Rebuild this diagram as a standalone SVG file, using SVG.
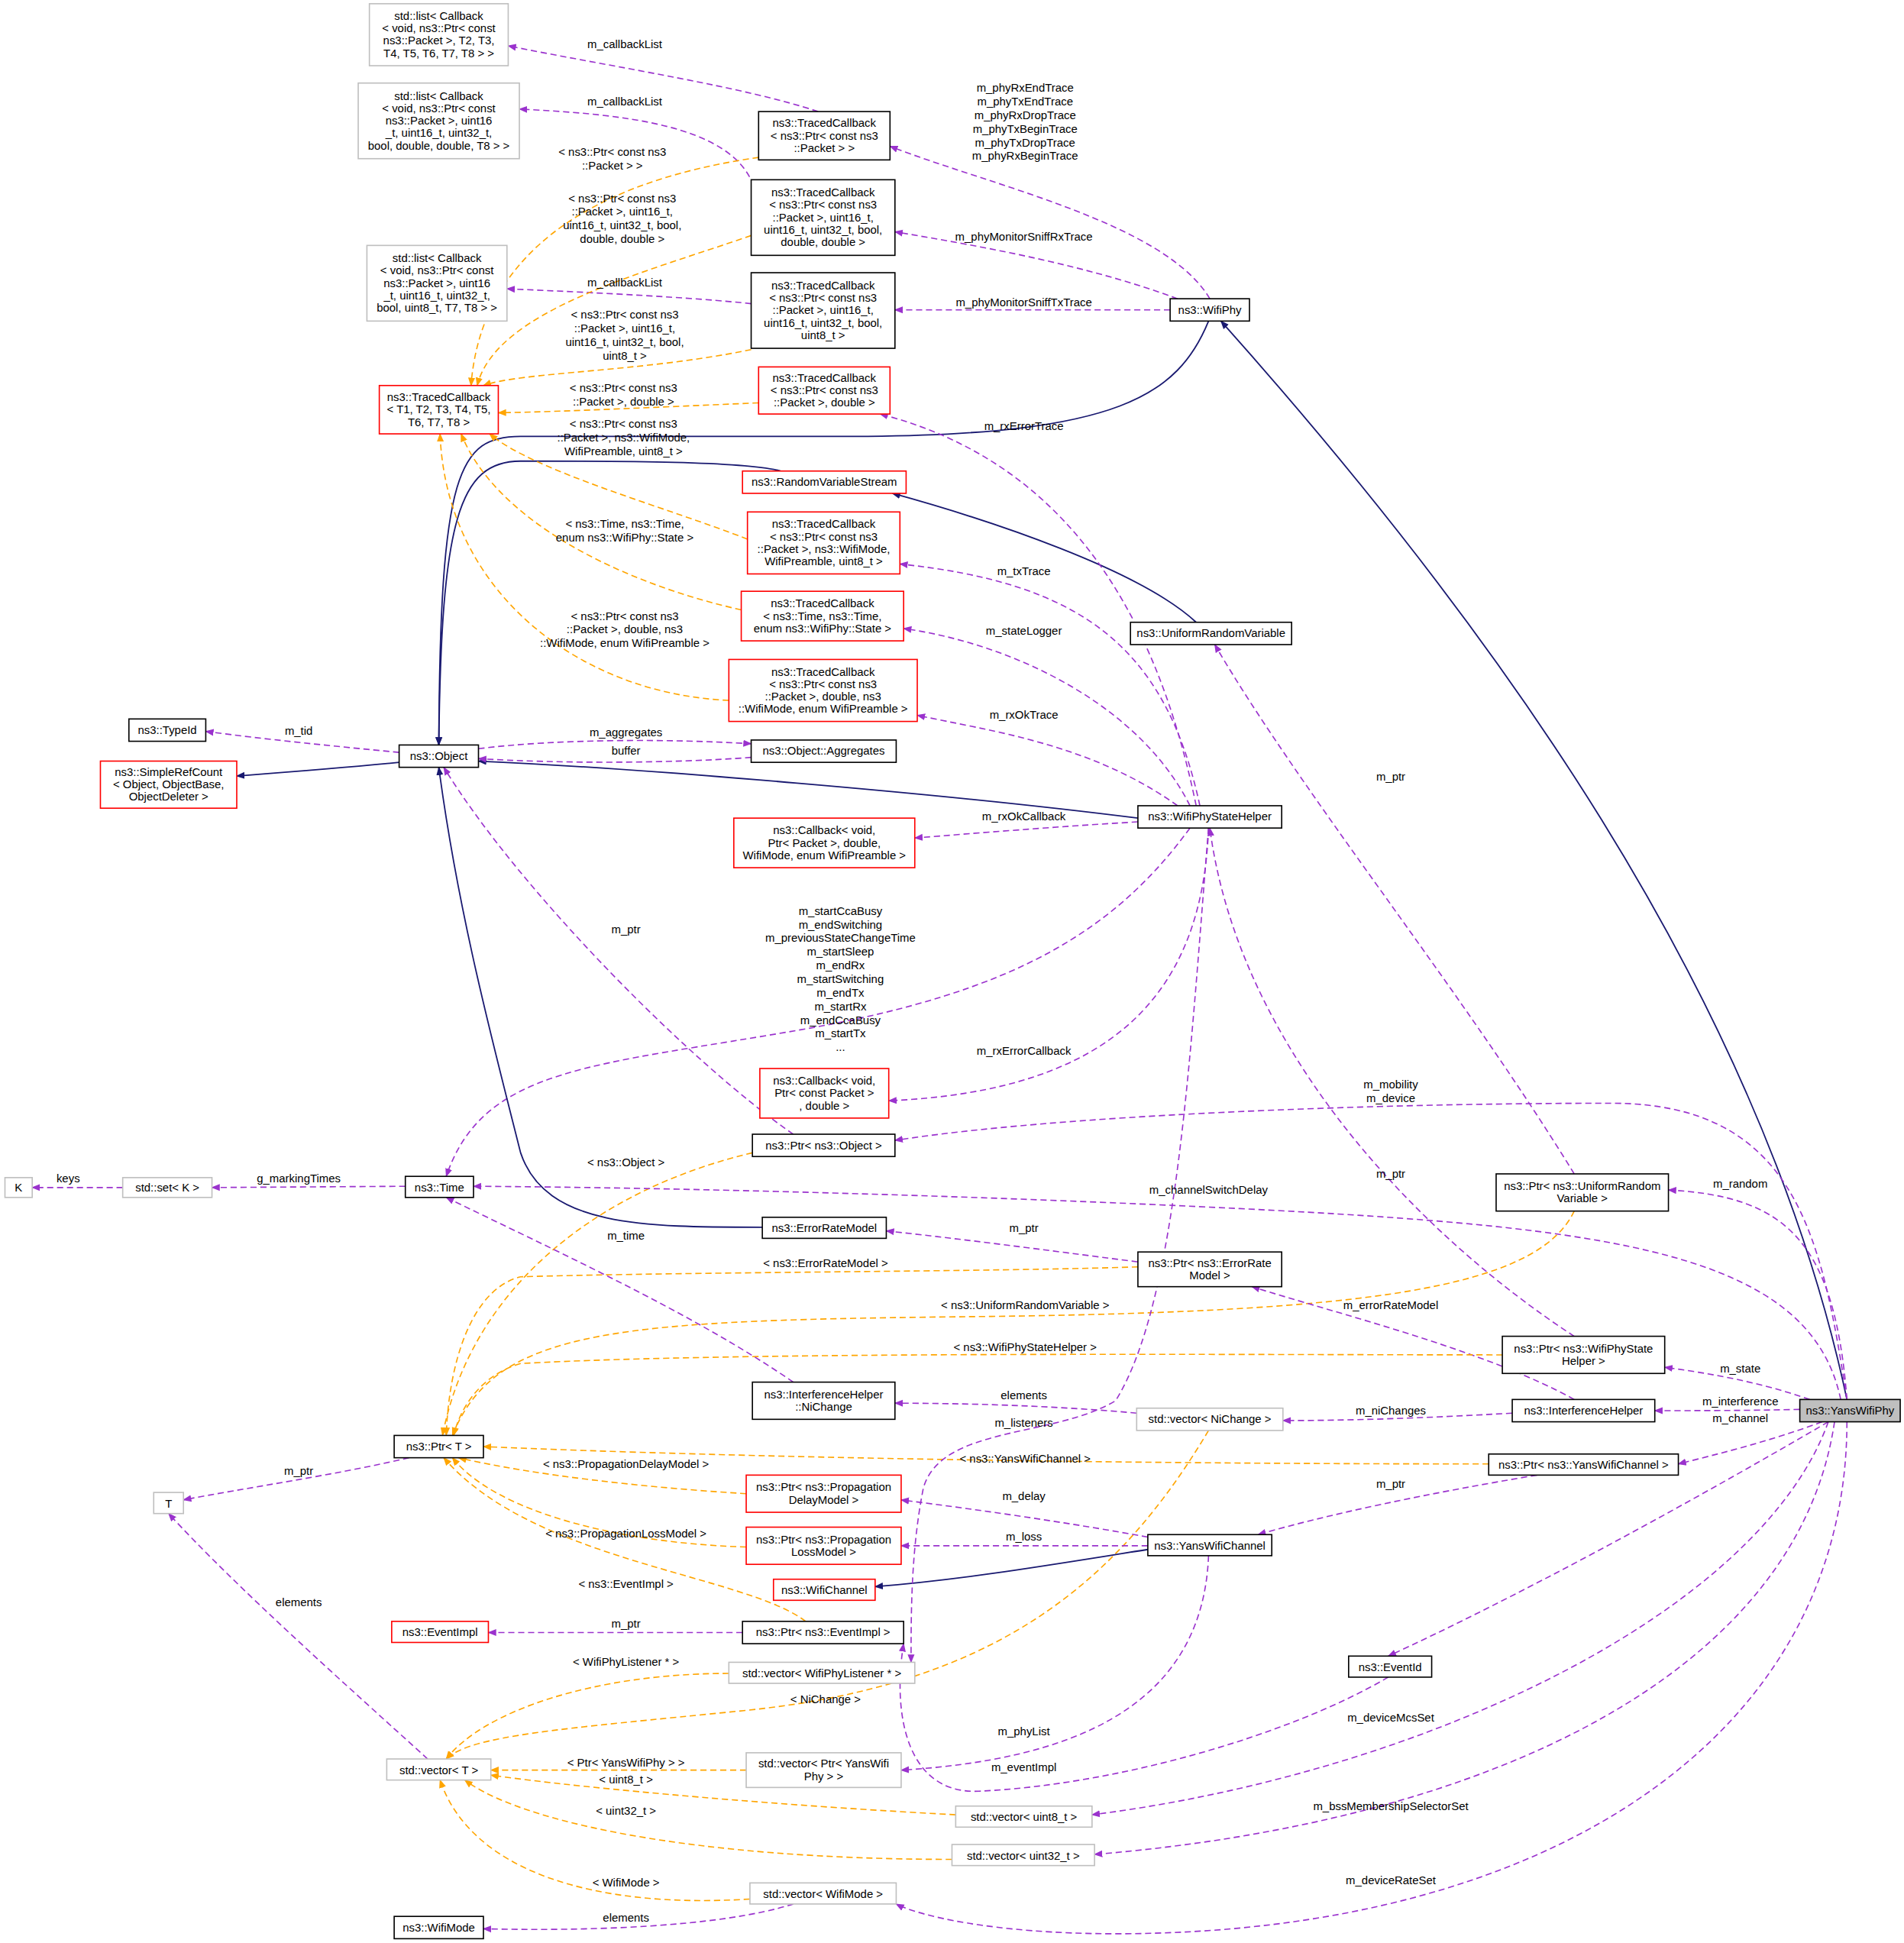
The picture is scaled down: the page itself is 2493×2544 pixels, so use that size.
<svg xmlns="http://www.w3.org/2000/svg" width="2493" height="2544" viewBox="0 0 2493 2544">
<style>
text{font-family:"Liberation Sans",Arial,sans-serif;font-size:9.2px;text-anchor:middle;fill:#000}
.n{fill:#fff;stroke:#000;stroke-width:1}
.r{fill:#fff;stroke:#ff0000;stroke-width:1}
.g{fill:#fff;stroke:#bfbfbf;stroke-width:1}
.s{fill:#bfbfbf;stroke:#000;stroke-width:1}
.e path{fill:none}
.i{stroke:#191970;stroke-width:1.1;marker-end:url(#mi)}
.u{stroke:#9a32cd;stroke-width:1;stroke-dasharray:5,3;marker-end:url(#mu)}
.t{stroke:#ffa500;stroke-width:1;stroke-dasharray:5,3;marker-end:url(#mt)}
</style>
<defs>
<marker id="mi" viewBox="0 0 10 10" refX="9" refY="5" markerWidth="7" markerHeight="7" orient="auto" markerUnits="userSpaceOnUse"><path d="M0,1L10,5L0,9z" fill="#191970"/></marker>
<marker id="mu" viewBox="0 0 10 10" refX="9" refY="5" markerWidth="7" markerHeight="7" orient="auto" markerUnits="userSpaceOnUse"><path d="M0,1L10,5L0,9z" fill="#9a32cd"/></marker>
<marker id="mt" viewBox="0 0 10 10" refX="9" refY="5" markerWidth="7" markerHeight="7" orient="auto" markerUnits="userSpaceOnUse"><path d="M0,1L10,5L0,9z" fill="#ffa500"/></marker>
</defs>
<rect width="2493" height="2544" fill="#fff"/>
<g transform="scale(1.623)">
<g id="edges" class="e">
<path class="u" d="M976,241C940,180 800,150 718,118"/>
<path class="u" d="M950,241C880,215 800,200 722,187"/>
<path class="u" d="M944,250L722,250"/>
<path class="i" d="M975,259C950,320 900,350 700,352L420,352C370,352 355,380 354,601"/>
<path class="i" d="M630,380C600,372 500,372 420,372C370,372 356,420 354,601"/>
<path class="i" d="M965,502C920,460 800,420 720,398"/>
<path class="i" d="M1490,1129C1420,800 1200,500 985,259"/>
<path class="u" d="M660,90C600,70 500,55 410,37"/>
<path class="u" d="M608,150C590,100 500,92 419,88"/>
<path class="u" d="M606,245C560,240 480,236 409,233"/>
<path class="t" d="M612,127C520,140 390,180 380,311"/>
<path class="t" d="M606,190C520,220 400,250 385,311"/>
<path class="t" d="M606,282C520,300 420,300 390,311"/>
<path class="t" d="M612,325C540,328 460,332 402,333"/>
<path class="t" d="M603,435C540,410 430,380 395,350"/>
<path class="t" d="M598,492C500,470 400,420 372,350"/>
<path class="t" d="M588,565C470,560 360,480 355,350"/>
<path class="u" d="M965,650C930,480 850,370 710,334"/>
<path class="u" d="M968,650C940,520 870,470 726,455"/>
<path class="u" d="M960,650C920,570 820,520 729,507"/>
<path class="u" d="M950,650C880,600 800,590 740,577"/>
<path class="i" d="M918,660C760,640 520,620 386,614"/>
<path class="u" d="M918,663C850,667 790,672 738,676"/>
<path class="u" d="M960,668C900,750 820,800 650,830C480,860 390,860 360,949"/>
<path class="u" d="M975,668C970,800 900,880 717,888"/>
<path class="u" d="M322,607C270,602 210,596 166,590"/>
<path class="u" d="M386,604C450,596 540,596 606,600"/>
<path class="u" d="M606,611C540,616 450,616 386,612"/>
<path class="i" d="M322,615C270,620 230,623 191,626"/>
<path class="u" d="M640,915C560,860 420,720 358,619"/>
<path class="t" d="M607,930C480,960 380,1040 357,1158"/>
<path class="u" d="M1490,1129C1470,1000 1450,890 1300,890C1100,890 850,900 722,920"/>
<path class="u" d="M327,957L171,958"/>
<path class="u" d="M99,958L26,958"/>
<path class="u" d="M1485,1129C1460,1010 1300,990 1000,975C800,965 550,958 382,957"/>
<path class="u" d="M1490,1129C1480,1000 1440,965 1346,960"/>
<path class="u" d="M1270,947C1180,800 1050,640 980,520"/>
<path class="t" d="M1270,977C1240,1040 1100,1058 800,1062C500,1065 400,1070 365,1158"/>
<path class="i" d="M615,990C520,990 440,990 420,930C400,850 370,740 354,619"/>
<path class="u" d="M918,1018C840,1008 780,1000 715,993"/>
<path class="t" d="M918,1022C800,1026 560,1026 420,1030C380,1040 362,1100 360,1158"/>
<path class="u" d="M1270,1129C1200,1090 1080,1060 1010,1038"/>
<path class="u" d="M1460,1129C1420,1115 1380,1108 1343,1103"/>
<path class="u" d="M1270,1078C1150,1000 1000,850 976,668"/>
<path class="t" d="M1212,1093C1000,1093 600,1090 420,1100C385,1110 370,1140 366,1158"/>
<path class="u" d="M640,1115C560,1060 450,1010 360,966"/>
<path class="u" d="M917,1140C850,1134 780,1132 722,1132"/>
<path class="u" d="M1220,1140C1150,1144 1090,1146 1035,1146"/>
<path class="u" d="M1452,1137C1410,1138 1370,1138 1335,1138"/>
<path class="t" d="M975,1154C900,1280 800,1360 600,1380C450,1395 380,1400 360,1419"/>
<path class="u" d="M1470,1147C1430,1162 1390,1172 1354,1181"/>
<path class="u" d="M1240,1190C1150,1205 1070,1222 1015,1238"/>
<path class="t" d="M1201,1181C900,1181 600,1176 390,1167"/>
<path class="u" d="M330,1176C270,1190 200,1200 148,1210"/>
<path class="t" d="M602,1205C520,1200 430,1190 370,1176"/>
<path class="t" d="M602,1248C500,1245 400,1220 365,1176"/>
<path class="t" d="M650,1308C600,1270 430,1260 358,1176"/>
<path class="u" d="M926,1240C860,1228 790,1218 727,1210"/>
<path class="u" d="M926,1247L727,1247"/>
<path class="i" d="M926,1250C850,1262 780,1274 706,1280"/>
<path class="u" d="M599,1317L394,1317"/>
<path class="u" d="M975,1255C970,1380 860,1420 727,1428"/>
<path class="u" d="M1120,1353C1040,1400 900,1440 790,1445C730,1448 720,1380 729,1326"/>
<path class="u" d="M1475,1147C1350,1220 1220,1290 1120,1336"/>
<path class="u" d="M975,668C960,850 950,1050 900,1130C850,1160 760,1150 745,1200C735,1250 735,1300 735,1341"/>
<path class="t" d="M588,1350C480,1350 390,1380 360,1419"/>
<path class="t" d="M602,1428L396,1428"/>
<path class="t" d="M771,1464C600,1455 450,1440 396,1432"/>
<path class="t" d="M768,1500C560,1500 420,1470 375,1436"/>
<path class="t" d="M605,1532C480,1540 380,1510 355,1436"/>
<path class="u" d="M640,1536C580,1555 470,1558 390,1556"/>
<path class="u" d="M345,1419C280,1360 190,1280 136,1221"/>
<path class="u" d="M1475,1147C1420,1300 1150,1430 881,1464"/>
<path class="u" d="M1480,1147C1450,1350 1200,1470 883,1496"/>
<path class="u" d="M1490,1147C1490,1400 1250,1560 900,1560C800,1560 740,1545 723,1536"/>
</g>
<g id="edge-labels">
<text x="827" y="74">m_phyRxEndTrace</text><text x="827" y="85">m_phyTxEndTrace</text><text x="827" y="96">m_phyRxDropTrace</text><text x="827" y="107">m_phyTxBeginTrace</text><text x="827" y="118">m_phyTxDropTrace</text><text x="827" y="129">m_phyRxBeginTrace</text>
<text x="826" y="194">m_phyMonitorSniffRxTrace</text>
<text x="826" y="247">m_phyMonitorSniffTxTrace</text>
<text x="504" y="39">m_callbackList</text><text x="504" y="85">m_callbackList</text><text x="504" y="231">m_callbackList</text>
<text x="494" y="126">&lt; ns3::Ptr&lt; const ns3</text><text x="494" y="137">::Packet &gt; &gt;</text>
<text x="502" y="163">&lt; ns3::Ptr&lt; const ns3</text><text x="502" y="174">::Packet &gt;, uint16_t,</text><text x="502" y="185">uint16_t, uint32_t, bool,</text><text x="502" y="196">double, double &gt;</text>
<text x="504" y="257">&lt; ns3::Ptr&lt; const ns3</text><text x="504" y="268">::Packet &gt;, uint16_t,</text><text x="504" y="279">uint16_t, uint32_t, bool,</text><text x="504" y="290">uint8_t &gt;</text>
<text x="503" y="316">&lt; ns3::Ptr&lt; const ns3</text><text x="503" y="327">::Packet &gt;, double &gt;</text>
<text x="503" y="345">&lt; ns3::Ptr&lt; const ns3</text><text x="503" y="356">::Packet &gt;, ns3::WifiMode,</text><text x="503" y="367">WifiPreamble, uint8_t &gt;</text>
<text x="504" y="426">&lt; ns3::Time, ns3::Time,</text><text x="504" y="437">enum ns3::WifiPhy::State &gt;</text>
<text x="504" y="500">&lt; ns3::Ptr&lt; const ns3</text><text x="504" y="511">::Packet &gt;, double, ns3</text><text x="504" y="522">::WifiMode, enum WifiPreamble &gt;</text>
<text x="826" y="347">m_rxErrorTrace</text><text x="826" y="464">m_txTrace</text><text x="826" y="512">m_stateLogger</text><text x="826" y="580">m_rxOkTrace</text><text x="826" y="662">m_rxOkCallback</text>
<text x="678" y="738">m_startCcaBusy</text><text x="678" y="749">m_endSwitching</text><text x="678" y="760">m_previousStateChangeTime</text><text x="678" y="771">m_startSleep</text><text x="678" y="782">m_endRx</text><text x="678" y="793">m_startSwitching</text><text x="678" y="804">m_endTx</text><text x="678" y="815">m_startRx</text><text x="678" y="826">m_endCcaBusy</text><text x="678" y="837">m_startTx</text><text x="678" y="848">...</text>
<text x="826" y="851">m_rxErrorCallback</text>
<text x="241" y="593">m_tid</text><text x="505" y="594">m_aggregates</text><text x="505" y="609">buffer</text>
<text x="505" y="753">m_ptr</text><text x="505" y="941">&lt; ns3::Object &gt;</text>
<text x="1122" y="878">m_mobility</text><text x="1122" y="889">m_device</text>
<text x="241" y="954">g_markingTimes</text><text x="55" y="954">keys</text>
<text x="975" y="963">m_channelSwitchDelay</text><text x="1404" y="958">m_random</text><text x="1122" y="630">m_ptr</text>
<text x="827" y="1056">&lt; ns3::UniformRandomVariable &gt;</text>
<text x="826" y="994">m_ptr</text><text x="666" y="1022">&lt; ns3::ErrorRateModel &gt;</text>
<text x="1122" y="1056">m_errorRateModel</text><text x="1404" y="1107">m_state</text><text x="1122" y="950">m_ptr</text>
<text x="827" y="1090">&lt; ns3::WifiPhyStateHelper &gt;</text><text x="505" y="1000">m_time</text>
<text x="826" y="1129">elements</text><text x="1122" y="1141">m_niChanges</text><text x="1404" y="1134">m_interference</text>
<text x="666" y="1374">&lt; NiChange &gt;</text><text x="1404" y="1147">m_channel</text><text x="1122" y="1200">m_ptr</text>
<text x="827" y="1180">&lt; ns3::YansWifiChannel &gt;</text><text x="241" y="1190">m_ptr</text>
<text x="505" y="1184">&lt; ns3::PropagationDelayModel &gt;</text><text x="505" y="1240">&lt; ns3::PropagationLossModel &gt;</text>
<text x="505" y="1281">&lt; ns3::EventImpl &gt;</text><text x="826" y="1210">m_delay</text><text x="826" y="1243">m_loss</text>
<text x="505" y="1313">m_ptr</text><text x="826" y="1400">m_phyList</text><text x="826" y="1429">m_eventImpl</text>
<text x="1277" y="1184">m_endRxEvent</text><text x="826" y="1151">m_listeners</text>
<text x="505" y="1344">&lt; WifiPhyListener * &gt;</text><text x="505" y="1425">&lt; Ptr&lt; YansWifiPhy &gt; &gt;</text>
<text x="505" y="1439">&lt; uint8_t &gt;</text><text x="505" y="1464">&lt; uint32_t &gt;</text><text x="505" y="1522">&lt; WifiMode &gt;</text>
<text x="505" y="1550">elements</text><text x="241" y="1296">elements</text>
<text x="1122" y="1389">m_deviceMcsSet</text><text x="1122" y="1460">m_bssMembershipSelectorSet</text><text x="1122" y="1520">m_deviceRateSet</text>
</g>
<g id="n1"><rect class="g" x="298" y="3" width="112" height="50"/><text x="354" y="16"><tspan x="354">std::list&lt; Callback</tspan><tspan x="354" dy="10">&lt; void, ns3::Ptr&lt; const</tspan><tspan x="354" dy="10">ns3::Packet &gt;, T2, T3,</tspan><tspan x="354" dy="10">T4, T5, T6, T7, T8 &gt; &gt;</tspan></text></g>
<g id="n2"><rect class="g" x="289" y="67" width="130" height="61"/><text x="354" y="80.5"><tspan x="354">std::list&lt; Callback</tspan><tspan x="354" dy="10">&lt; void, ns3::Ptr&lt; const</tspan><tspan x="354" dy="10">ns3::Packet &gt;, uint16</tspan><tspan x="354" dy="10">_t, uint16_t, uint32_t,</tspan><tspan x="354" dy="10">bool, double, double, T8 &gt; &gt;</tspan></text></g>
<g id="n3"><rect class="g" x="296" y="198" width="113" height="61"/><text x="352.5" y="211.5"><tspan x="352.5">std::list&lt; Callback</tspan><tspan x="352.5" dy="10">&lt; void, ns3::Ptr&lt; const</tspan><tspan x="352.5" dy="10">ns3::Packet &gt;, uint16</tspan><tspan x="352.5" dy="10">_t, uint16_t, uint32_t,</tspan><tspan x="352.5" dy="10">bool, uint8_t, T7, T8 &gt; &gt;</tspan></text></g>
<g id="n4"><rect class="n" x="612" y="90" width="106" height="39"/><text x="665" y="102.5"><tspan x="665">ns3::TracedCallback</tspan><tspan x="665" dy="10">&lt; ns3::Ptr&lt; const ns3</tspan><tspan x="665" dy="10">::Packet &gt; &gt;</tspan></text></g>
<g id="n5"><rect class="n" x="606" y="145" width="116" height="61"/><text x="664" y="158.5"><tspan x="664">ns3::TracedCallback</tspan><tspan x="664" dy="10">&lt; ns3::Ptr&lt; const ns3</tspan><tspan x="664" dy="10">::Packet &gt;, uint16_t,</tspan><tspan x="664" dy="10">uint16_t, uint32_t, bool,</tspan><tspan x="664" dy="10">double, double &gt;</tspan></text></g>
<g id="n6"><rect class="n" x="606" y="220" width="116" height="61"/><text x="664" y="233.5"><tspan x="664">ns3::TracedCallback</tspan><tspan x="664" dy="10">&lt; ns3::Ptr&lt; const ns3</tspan><tspan x="664" dy="10">::Packet &gt;, uint16_t,</tspan><tspan x="664" dy="10">uint16_t, uint32_t, bool,</tspan><tspan x="664" dy="10">uint8_t &gt;</tspan></text></g>
<g id="n7"><rect class="n" x="944" y="241" width="64" height="18"/><text x="976" y="253">ns3::WifiPhy</text></g>
<g id="n8"><rect class="r" x="306" y="311" width="96" height="39"/><text x="354" y="323.5"><tspan x="354">ns3::TracedCallback</tspan><tspan x="354" dy="10">&lt; T1, T2, T3, T4, T5,</tspan><tspan x="354" dy="10">T6, T7, T8 &gt;</tspan></text></g>
<g id="n9"><rect class="r" x="612" y="296" width="106" height="38"/><text x="665" y="308"><tspan x="665">ns3::TracedCallback</tspan><tspan x="665" dy="10">&lt; ns3::Ptr&lt; const ns3</tspan><tspan x="665" dy="10">::Packet &gt;, double &gt;</tspan></text></g>
<g id="n10"><rect class="r" x="599" y="380" width="132" height="18"/><text x="665" y="392">ns3::RandomVariableStream</text></g>
<g id="n11"><rect class="r" x="603" y="413" width="123" height="50"/><text x="664.5" y="426"><tspan x="664.5">ns3::TracedCallback</tspan><tspan x="664.5" dy="10">&lt; ns3::Ptr&lt; const ns3</tspan><tspan x="664.5" dy="10">::Packet &gt;, ns3::WifiMode,</tspan><tspan x="664.5" dy="10">WifiPreamble, uint8_t &gt;</tspan></text></g>
<g id="n12"><rect class="r" x="598" y="477" width="131" height="40"/><text x="663.5" y="490"><tspan x="663.5">ns3::TracedCallback</tspan><tspan x="663.5" dy="10">&lt; ns3::Time, ns3::Time,</tspan><tspan x="663.5" dy="10">enum ns3::WifiPhy::State &gt;</tspan></text></g>
<g id="n13"><rect class="n" x="912" y="502" width="130" height="18"/><text x="977" y="514">ns3::UniformRandomVariable</text></g>
<g id="n14"><rect class="r" x="588" y="532" width="152" height="50"/><text x="664" y="545"><tspan x="664">ns3::TracedCallback</tspan><tspan x="664" dy="10">&lt; ns3::Ptr&lt; const ns3</tspan><tspan x="664" dy="10">::Packet &gt;, double, ns3</tspan><tspan x="664" dy="10">::WifiMode, enum WifiPreamble &gt;</tspan></text></g>
<g id="n15"><rect class="n" x="104" y="580" width="62" height="18"/><text x="135" y="592">ns3::TypeId</text></g>
<g id="n16"><rect class="r" x="81" y="614" width="110" height="38"/><text x="136" y="626"><tspan x="136">ns3::SimpleRefCount</tspan><tspan x="136" dy="10">&lt; Object, ObjectBase,</tspan><tspan x="136" dy="10">ObjectDeleter &gt;</tspan></text></g>
<g id="n17"><rect class="n" x="322" y="601" width="64" height="18"/><text x="354" y="613">ns3::Object</text></g>
<g id="n18"><rect class="n" x="606" y="597" width="117" height="18"/><text x="664.5" y="609">ns3::Object::Aggregates</text></g>
<g id="n19"><rect class="n" x="918" y="650" width="116" height="18"/><text x="976" y="662">ns3::WifiPhyStateHelper</text></g>
<g id="n20"><rect class="r" x="592" y="660" width="146" height="40"/><text x="665" y="673"><tspan x="665">ns3::Callback&lt; void,</tspan><tspan x="665" dy="10">Ptr&lt; Packet &gt;, double,</tspan><tspan x="665" dy="10">WifiMode, enum WifiPreamble &gt;</tspan></text></g>
<g id="n21"><rect class="r" x="613" y="862" width="104" height="40"/><text x="665" y="875"><tspan x="665">ns3::Callback&lt; void,</tspan><tspan x="665" dy="10">Ptr&lt; const Packet &gt;</tspan><tspan x="665" dy="10">, double &gt;</tspan></text></g>
<g id="n22"><rect class="n" x="607" y="915" width="115" height="18"/><text x="664.5" y="927">ns3::Ptr&lt; ns3::Object &gt;</text></g>
<g id="n23"><rect class="g" x="4" y="950" width="22" height="16"/><text x="15" y="961">K</text></g>
<g id="n24"><rect class="g" x="99" y="950" width="72" height="16"/><text x="135" y="961">std::set&lt; K &gt;</text></g>
<g id="n25"><rect class="n" x="327" y="949" width="55" height="17"/><text x="354.5" y="961">ns3::Time</text></g>
<g id="n26"><rect class="n" x="1207" y="947" width="139" height="30"/><text x="1276.5" y="960"><tspan x="1276.5">ns3::Ptr&lt; ns3::UniformRandom</tspan><tspan x="1276.5" dy="10">Variable &gt;</tspan></text></g>
<g id="n27"><rect class="n" x="615" y="982" width="100" height="17"/><text x="665" y="994">ns3::ErrorRateModel</text></g>
<g id="n28"><rect class="n" x="918" y="1010" width="116" height="28"/><text x="976" y="1022"><tspan x="976">ns3::Ptr&lt; ns3::ErrorRate</tspan><tspan x="976" dy="10">Model &gt;</tspan></text></g>
<g id="n29"><rect class="n" x="1212" y="1078" width="131" height="30"/><text x="1277.5" y="1091"><tspan x="1277.5">ns3::Ptr&lt; ns3::WifiPhyState</tspan><tspan x="1277.5" dy="10">Helper &gt;</tspan></text></g>
<g id="n30"><rect class="n" x="607" y="1115" width="115" height="30"/><text x="664.5" y="1128"><tspan x="664.5">ns3::InterferenceHelper</tspan><tspan x="664.5" dy="10">::NiChange</tspan></text></g>
<g id="n31"><rect class="g" x="917" y="1136" width="118" height="18"/><text x="976" y="1148">std::vector&lt; NiChange &gt;</text></g>
<g id="n32"><rect class="n" x="1220" y="1129" width="115" height="18"/><text x="1277.5" y="1141">ns3::InterferenceHelper</text></g>
<g id="n33"><rect class="s" x="1452" y="1129" width="81" height="18"/><text x="1492.5" y="1141">ns3::YansWifiPhy</text></g>
<g id="n34"><rect class="n" x="318" y="1158" width="72" height="18"/><text x="354" y="1170">ns3::Ptr&lt; T &gt;</text></g>
<g id="n35"><rect class="n" x="1201" y="1173" width="153" height="17"/><text x="1277.5" y="1185">ns3::Ptr&lt; ns3::YansWifiChannel &gt;</text></g>
<g id="n36"><rect class="r" x="602" y="1190" width="125" height="30"/><text x="664.5" y="1203"><tspan x="664.5">ns3::Ptr&lt; ns3::Propagation</tspan><tspan x="664.5" dy="10">DelayModel &gt;</tspan></text></g>
<g id="n37"><rect class="g" x="124" y="1204" width="24" height="17"/><text x="136" y="1216">T</text></g>
<g id="n38"><rect class="n" x="926" y="1238" width="100" height="17"/><text x="976" y="1250">ns3::YansWifiChannel</text></g>
<g id="n39"><rect class="r" x="602" y="1232" width="125" height="30"/><text x="664.5" y="1245"><tspan x="664.5">ns3::Ptr&lt; ns3::Propagation</tspan><tspan x="664.5" dy="10">LossModel &gt;</tspan></text></g>
<g id="n40"><rect class="r" x="624" y="1274" width="82" height="17"/><text x="665" y="1286">ns3::WifiChannel</text></g>
<g id="n41"><rect class="r" x="316" y="1308" width="78" height="17"/><text x="355" y="1320">ns3::EventImpl</text></g>
<g id="n42"><rect class="n" x="599" y="1308" width="130" height="18"/><text x="664" y="1320">ns3::Ptr&lt; ns3::EventImpl &gt;</text></g>
<g id="n43"><rect class="n" x="1088" y="1336" width="67" height="17"/><text x="1121.5" y="1348">ns3::EventId</text></g>
<g id="n44"><rect class="g" x="588" y="1341" width="150" height="17"/><text x="663" y="1353">std::vector&lt; WifiPhyListener * &gt;</text></g>
<g id="n45"><rect class="g" x="312" y="1419" width="84" height="17"/><text x="354" y="1431">std::vector&lt; T &gt;</text></g>
<g id="n46"><rect class="g" x="602" y="1414" width="125" height="28"/><text x="664.5" y="1426"><tspan x="664.5">std::vector&lt; Ptr&lt; YansWifi</tspan><tspan x="664.5" dy="10">Phy &gt; &gt;</tspan></text></g>
<g id="n47"><rect class="g" x="771" y="1457" width="110" height="17"/><text x="826" y="1469">std::vector&lt; uint8_t &gt;</text></g>
<g id="n48"><rect class="g" x="768" y="1488" width="115" height="17"/><text x="825.5" y="1500">std::vector&lt; uint32_t &gt;</text></g>
<g id="n49"><rect class="g" x="605" y="1519" width="118" height="17"/><text x="664" y="1531">std::vector&lt; WifiMode &gt;</text></g>
<g id="n50"><rect class="n" x="318" y="1546" width="72" height="18"/><text x="354" y="1558">ns3::WifiMode</text></g>
</g>
</svg>
